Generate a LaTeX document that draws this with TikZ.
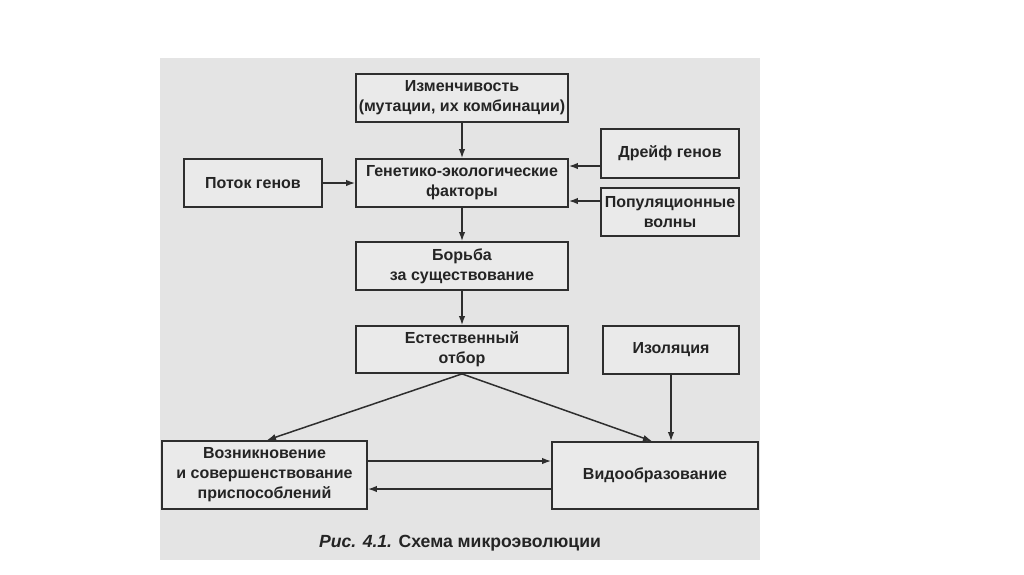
\documentclass[tikz,border=0pt]{standalone}
\usepackage{fontspec}
\setmainfont{Liberation Sans}
\usetikzlibrary{arrows.meta,calc}
\definecolor{pagegrey}{HTML}{E4E4E4}
\definecolor{boxgrey}{HTML}{EAEAEA}
\definecolor{inkgrey}{HTML}{2E2E2E}
\definecolor{textgrey}{HTML}{242424}
\tikzset{
  box/.style={draw=inkgrey, line width=1.8pt, fill=boxgrey, text=textgrey,
    align=center, inner sep=0pt,
    font=\bfseries\fontsize{16}{20}\selectfont},
  arr/.style={draw=inkgrey, line width=1.5pt,
    -{Latex[length=9pt,width=6.5pt]}},
}
\begin{document}
\begin{tikzpicture}[x=1pt,y=-1pt]
\useasboundingbox (0,0) rectangle (1024,574);
\fill[white] (0,0) rectangle (1024,574);
\fill[pagegrey] (160,58) rectangle (760,560);

\node[box, minimum width=212pt, minimum height=48pt] (izm) at (462,98)
  {Изменчивость\\(мутации, их комбинации)};
\node[box, minimum width=212pt, minimum height=48pt] (gen) at (462,183)
  {Генетико-экологические\\факторы};
\node[box, minimum width=138pt, minimum height=48pt] (potok) at (253,183)
  {Поток генов};
\node[box, minimum width=138pt, minimum height=49pt] (dreif) at (670,153.5)
  {Дрейф генов};
\node[box, minimum width=138pt, minimum height=48pt] (pop) at (670,212)
  {Популяционные\\волны};
\node[box, minimum width=212pt, minimum height=48pt] (borba) at (462,266)
  {Борьба\\за существование};
\node[box, minimum width=212pt, minimum height=47pt] (est) at (462,349.5)
  {Естественный\\отбор};
\node[box, minimum width=136pt, minimum height=48pt] (izol) at (671,350)
  {Изоляция};
\node[box, minimum width=205pt, minimum height=68pt] (vozn) at (264.5,475)
  {Возникновение\\и совершенствование\\приспособлений};
\node[box, minimum width=206pt, minimum height=67pt] (vido) at (655,475.5)
  {Видообразование};
\node[text=textgrey, font=\bfseries\fontsize{17.6}{20}\selectfont] (cap) at (460,543)
  {\textit{Рис. 4.1.} Схема микроэволюции};

\draw[arr] (izm.south) -- (gen.north);
\draw[arr] (potok.east) -- (gen.west);
\draw[arr] ([yshift=-12.5pt]dreif.west) -- ([yshift=-12.5pt]dreif.west -| gen.east);
\draw[arr] ([yshift=11pt]pop.west) -- ([yshift=11pt]pop.west -| gen.east);
\draw[arr] (gen.south) -- (borba.north);
\draw[arr] (borba.south) -- (est.north);
\draw[arr] (est.south) -- ([xshift=2.5pt]vozn.north);
\draw[arr] (est.south) -- ([xshift=-3pt]vido.north);
\draw[arr] (izol.south) -- (izol.south |- vido.north);
\draw[arr] ([yshift=14pt]vozn.east) -- ([yshift=14pt]vozn.east -| vido.west);
\draw[arr] ([yshift=-13.5pt]vido.west) -- ([yshift=-13.5pt]vido.west -| vozn.east);
\end{tikzpicture}
\end{document}
